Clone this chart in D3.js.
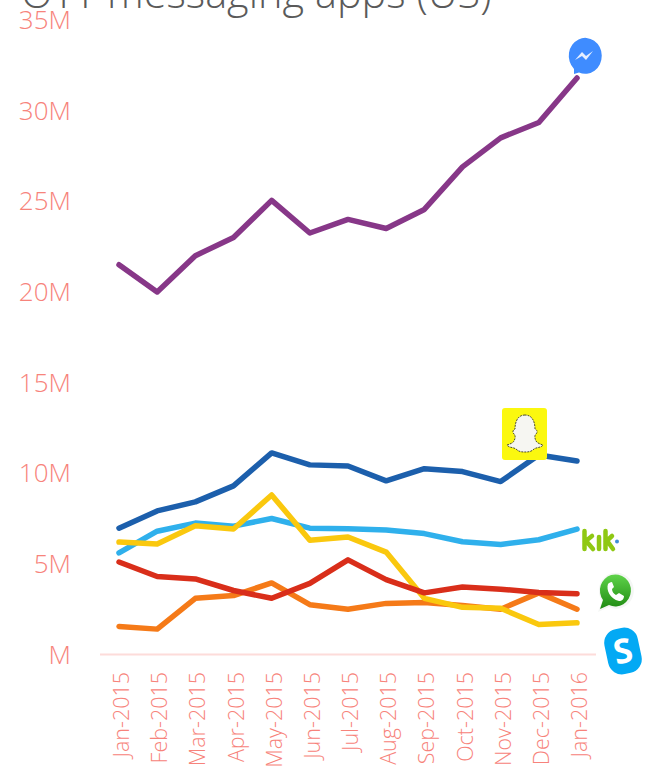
<!DOCTYPE html>
<html><head><meta charset="utf-8">
<style>html,body{margin:0;padding:0;background:#fff;overflow:hidden}svg{display:block}
text{font-family:"Open Sans",sans-serif;font-weight:300}</style>
<script src="https://cdn.jsdelivr.net/npm/d3@7/dist/d3.min.js"></script></head><body>
<div id="chart"></div>
<script>
const title = "OTT messaging apps (US)";
const months = ["Jan-2015","Feb-2015","Mar-2015","Apr-2015","May-2015","Jun-2015","Jul-2015","Aug-2015","Sep-2015","Oct-2015","Nov-2015","Dec-2015","Jan-2016"];
const yTicks = [0,5,10,15,20,25,30,35];
const messenger = [21.5,20.0,22.0,23.0,25.05,23.25,24.0,23.5,24.55,26.9,28.5,29.35,31.8];
const snapchat = [6.97,7.92,8.42,9.3,11.12,10.46,10.4,9.58,10.25,10.09,9.54,11.0,10.67];
const kik = [5.6,6.8,7.25,7.08,7.5,6.97,6.93,6.87,6.67,6.22,6.07,6.33,6.92];
const snapYellow = [6.2,6.1,7.1,6.92,8.8,6.3,6.48,5.65,3.1,2.6,2.55,1.65,1.75];
const whatsapp = [5.1,4.3,4.17,3.53,3.1,3.92,5.22,4.13,3.4,3.72,3.6,3.42,3.35];
const skype = [1.55,1.4,3.1,3.25,3.95,2.75,2.5,2.82,2.87,2.7,2.5,3.4,2.5];
const seriesList = [
  {name:"Messenger", values:messenger, color:"#873788"},
  {name:"Skype", values:skype, color:"#f57a18"},
  {name:"Kik", values:kik, color:"#2fb0ec"},
  {name:"Yellow", values:snapYellow, color:"#fac80e"},
  {name:"Snapchat", values:snapchat, color:"#1c5fac"},
  {name:"WhatsApp", values:whatsapp, color:"#d92e1a"}
];
const W=661,H=768;
const svg=d3.select("#chart").append("svg").attr("width",W).attr("height",H);
const x=d3.scalePoint().domain(d3.range(months.length)).range([119,577]);
const y=d3.scaleLinear().domain([0,35]).range([654.5,20]);
const labelColor="#f7837b";

svg.append("text").attr("x",21).attr("y",8).attr("font-size",41.5).attr("fill","#5a5a5a").text(title);

svg.selectAll(".yl").data(yTicks).join("text").attr("class","yl")
  .attr("x",71).attr("y",d=>y(d)+9).attr("text-anchor","end")
  .attr("font-size",26).attr("fill",labelColor).text(d=>d===0?"M":d+"M");

svg.append("line").attr("x1",100).attr("x2",596).attr("y1",y(0)).attr("y2",y(0))
  .attr("stroke","#fddcda").attr("stroke-width",2);

svg.selectAll(".xl").data(months).join("text").attr("class","xl")
  .attr("transform",(d,i)=>`translate(${x(i)+10},672) rotate(-90)`)
  .attr("text-anchor","end").attr("font-size",21.5).attr("fill",labelColor).text(d=>d);

const line=d3.line().x((d,i)=>x(i)).y(d=>y(d));
svg.selectAll(".s").data(seriesList).join("path").attr("class","s")
  .attr("d",d=>line(d.values)).attr("fill","none").attr("stroke",d=>d.color)
  .attr("stroke-width",5.5).attr("stroke-linejoin","round").attr("stroke-linecap","round");

const defs=svg.append("defs");
const grad=defs.append("linearGradient").attr("id","wa").attr("x1",0).attr("x2",0).attr("y1",0).attr("y2",1);
grad.append("stop").attr("offset","0").attr("stop-color","#5fd34a");
grad.append("stop").attr("offset","1").attr("stop-color","#1f8a12");

// Messenger icon
const m=svg.append("g").attr("transform","translate(584,56)");
m.append("path").attr("d","M-10,18 L-10,13 A16.5,18 0 1 1 -5,16.5 Z").attr("fill","#3f8cff");
m.append("path").attr("d","M-9,4 L-2,-4 L2,0 L9,-5 L2,4 L-2,0 Z").attr("fill","#e6efff");

// Snapchat icon
const s=svg.append("g").attr("transform","translate(525,434)");
s.append("rect").attr("x",-23).attr("y",-26).attr("width",45).attr("height",52).attr("rx",3).attr("fill","#fbf80f");
s.append("path").attr("d","M0,-19 C-8,-19 -10,-11 -10,-5 C-12,-4 -13,-2 -11,0 C-10,1 -9,3 -11,7 C-12,9 -15,10 -18,11 C-16,14 -12,13 -9,15 C-6,18 -3,18 0,18 C3,18 6,18 9,15 C12,13 16,14 18,11 C15,10 12,9 11,7 C9,3 10,1 11,0 C13,-2 12,-4 10,-5 C10,-11 8,-19 0,-19 Z")
 .attr("fill","#f6f6f2").attr("stroke","#4a4a30").attr("stroke-width",1).attr("stroke-dasharray","2 1");

// Kik icon
const kk=svg.append("g").attr("fill","none").attr("stroke","#8fc813").attr("stroke-width",4.5).attr("stroke-linecap","round");
kk.append("path").attr("d","M584.5,531 V549 M584.5,542 L592,536 M587,542 L593,549");
kk.append("path").attr("d","M599,537 V549");
kk.append("path").attr("d","M605.5,531 V549 M605.5,542 L612,536 M608,542 L613,549");
svg.append("circle").attr("cx",617).attr("cy",541.5).attr("r",2).attr("fill","#3f8fd8");

// WhatsApp icon
const w=svg.append("g").attr("transform","translate(615,592)");
w.append("path").attr("d","M-17,20 L-13,9 A17.5,18 0 1 1 -6,15 Z").attr("fill","#f4f6f4");
w.append("path").attr("d","M-15,17 L-12,8 A15.5,16 0 1 1 -6,13 Z").attr("fill","url(#wa)");
w.append("path").attr("d","M-7,-8 C-9,-2 -5,7 4,9 C7,9 9,7 9,4 L4,1 L1,3 C-1,2 -3,0 -3,-3 L-1,-5 L-3,-10 C-5,-10 -6,-9 -7,-8 Z").attr("fill","#fff");

// Skype icon
const k=svg.append("g").attr("transform","translate(623,651) rotate(-12)");
k.append("rect").attr("x",-17).attr("y",-23).attr("width",34).attr("height",46).attr("rx",14).attr("fill","#03a9f4");
k.append("text").attr("text-anchor","middle").attr("y",12).attr("font-size",34).style("font-weight",700).attr("fill","#fff").text("S");
</script></body></html>
